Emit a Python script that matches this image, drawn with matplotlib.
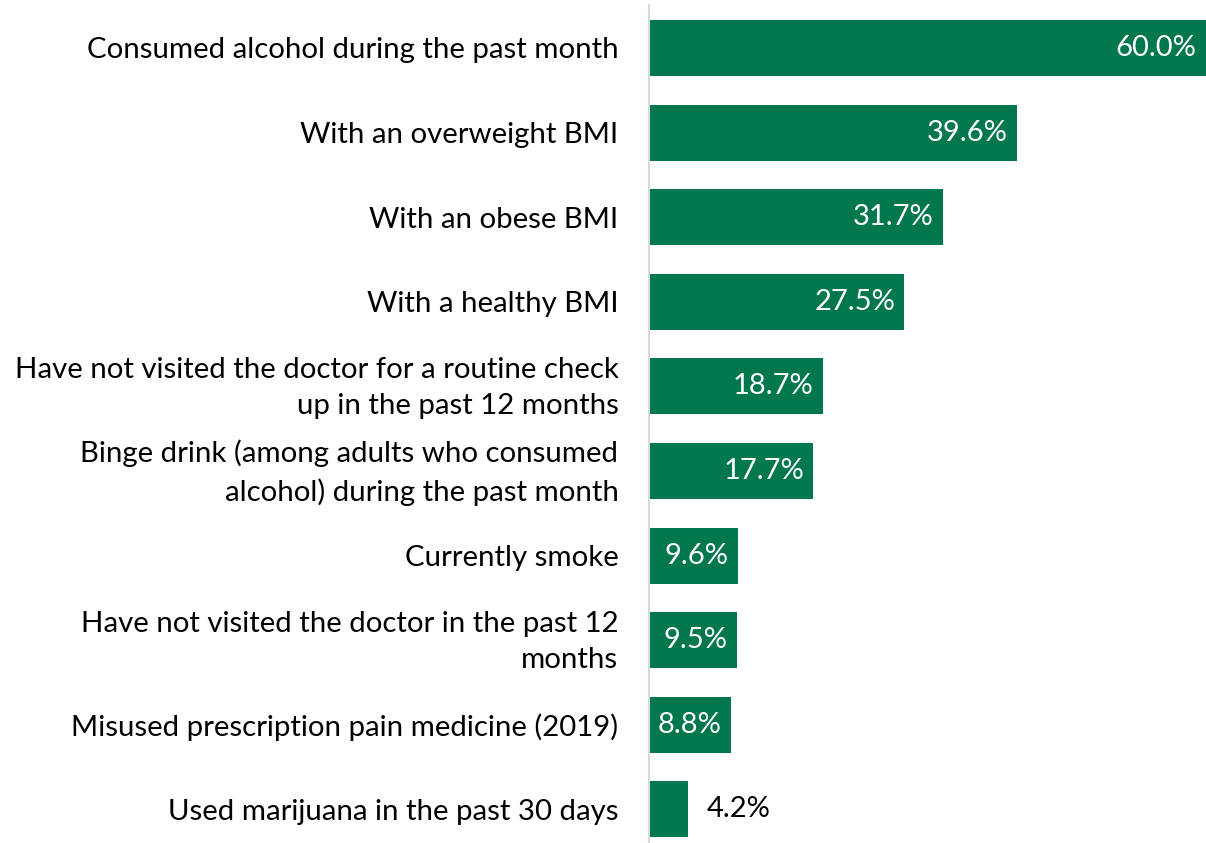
import matplotlib
matplotlib.use('Agg')
import matplotlib.pyplot as plt
from matplotlib.transforms import ScaledTranslation

categories = [
    "Consumed alcohol during the past month",
    "With an overweight BMI",
    "With an obese BMI",
    "With a healthy BMI",
    "Have not visited the doctor for a routine check\nup in the past 12 months",
    "Binge drink (among adults who consumed\nalcohol) during the past month",
    "Currently smoke",
    "Have not visited the doctor in the past 12\nmonths",
    "Misused prescription pain medicine (2019)",
    "Used marijuana in the past 30 days",
]
values = [60.0, 39.6, 31.7, 27.5, 18.7, 17.7, 9.6, 9.5, 8.8, 4.2]

plt.rcParams['font.family'] = ['Lato', 'DejaVu Sans']

fig = plt.figure(figsize=(12.06, 8.43), dpi=100)
ax = fig.add_axes([649 / 1206, 0, 1 - 649 / 1206, 838 / 843])

y = list(range(len(categories)))
ax.barh(y, values, height=0.66, color='#00774D')
ax.set_xlim(0, 60.0)
ax.set_ylim((843 - 48) / 84.6, -43 / 84.6)

ax.set_yticks(y)
ax.set_yticklabels(categories, fontsize=21.2, ha='right', linespacing=1.5)
ax.tick_params(axis='y', length=0, pad=22)
ax.set_xticks([])

# nudge two-line labels up a little so they sit centred on the bar
for lbl in ax.get_yticklabels():
    if '\n' in lbl.get_text():
        lbl.set_transform(lbl.get_transform() + ScaledTranslation(0, 6 / 100, fig.dpi_scale_trans))

for s in ['top', 'right', 'bottom']:
    ax.spines[s].set_visible(False)
ax.spines['left'].set_color('#D9D9D9')
ax.spines['left'].set_linewidth(1.5)

for yi, v in zip(y, values):
    label = f"{v:.1f}%"
    if v > 8:
        ax.text(v - 1.0, yi, label, ha='right', va='center', color='white', fontsize=21)
    else:
        ax.text(v + 2.0, yi, label, ha='left', va='center', color='black', fontsize=21)

fig.savefig('out.png', dpi=100)
